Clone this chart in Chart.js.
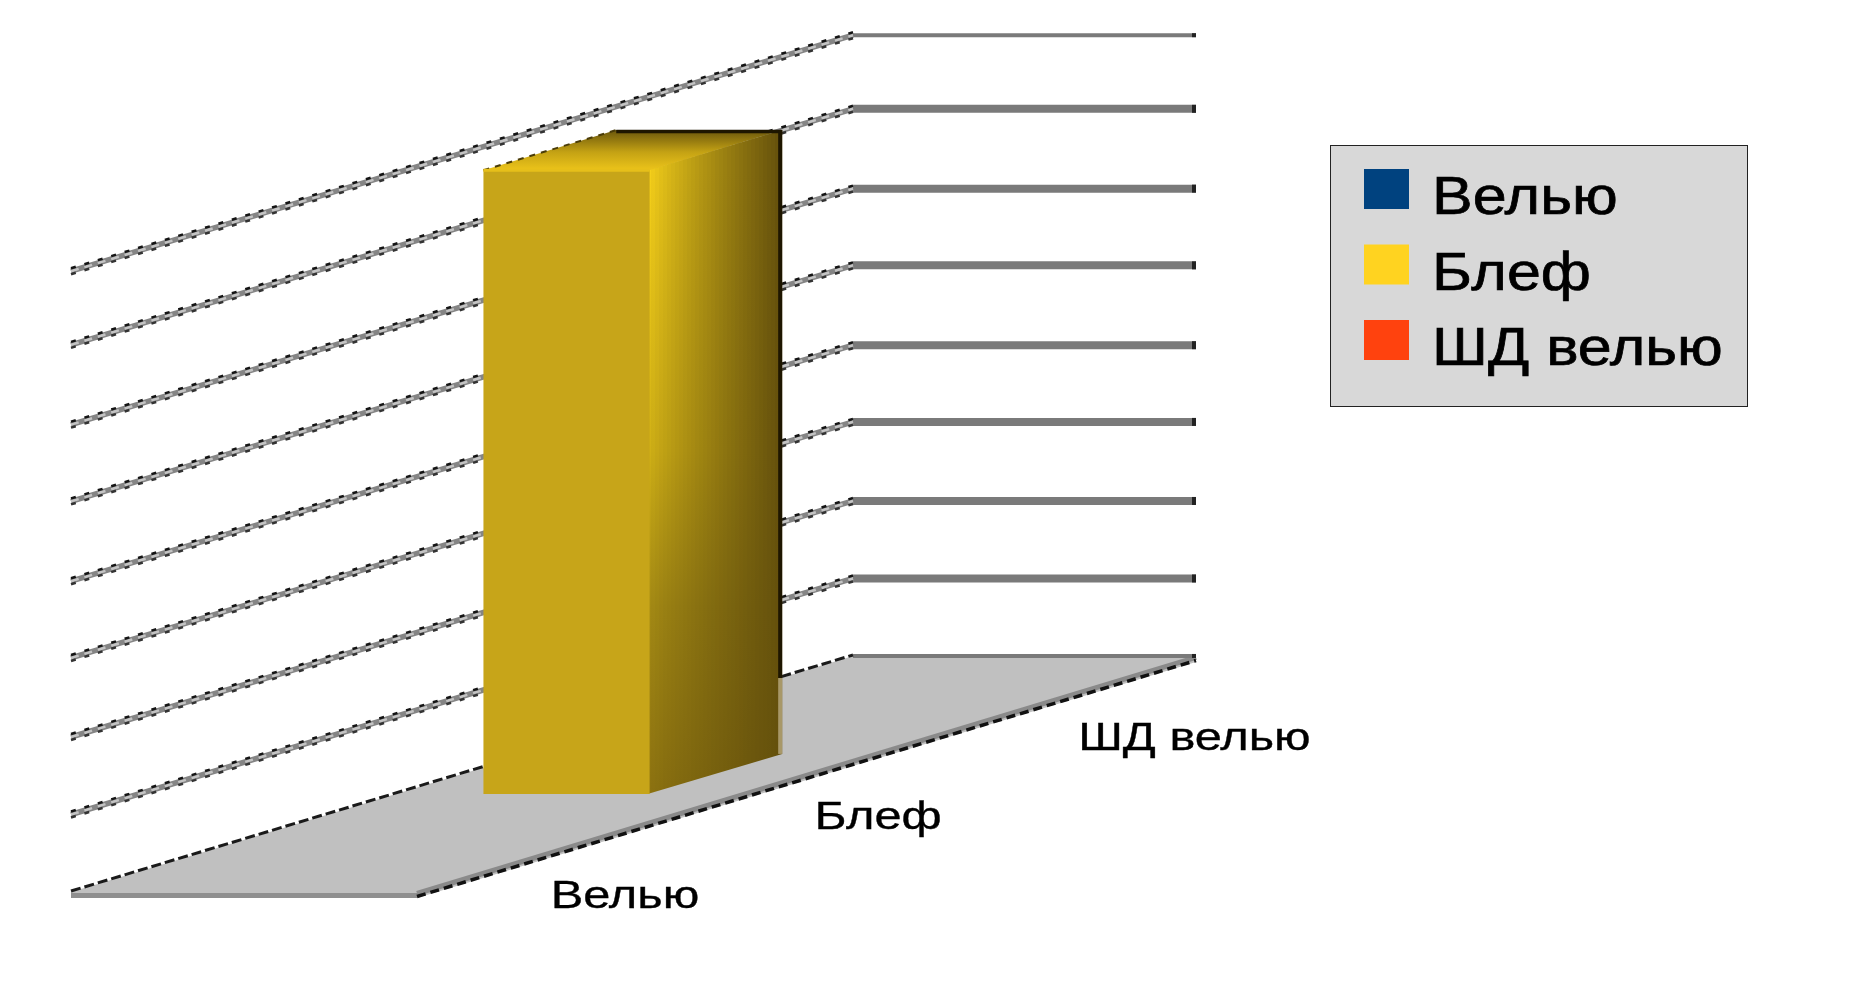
<!DOCTYPE html>
<html>
<head>
<meta charset="utf-8">
<style>
    html, body { margin: 0; padding: 0; background: #fff; overflow: hidden; }
    canvas { display: block; }
</style>
<script src="https://cdn.jsdelivr.net/npm/chart.js@4"></script>
</head>
<body>
<canvas id="chart" width="1853" height="1000"></canvas>
<script>
const categories = ['Велью', 'Блеф', 'ШД велью'];
const seriesNames = ['Велью', 'Блеф', 'ШД велью'];
const veluValues = [0, 0, 0];
const blefValues = [0, 8.05, 0];
const shdValues = [0, 0, 0];
const seriesColors = ['#00427f', '#ffd320', '#ff420e'];
// gridline levels as they sit in the picture
const gridLevels = [0, 1, 2, 3.02, 4.01, 5.04, 6.03, 7.06, 8.01];

// oblique projection of the floor
const floorWidth = 346;
const backWidth = 343;
const depthSlope = 0.303;
const barLeft = 0.255;
const barRight = 0.737;

function shade(hex, k) {
    const n = parseInt(hex.slice(1), 16);
    const r = Math.round(((n >> 16) & 255) * k);
    const g = Math.round(((n >> 8) & 255) * k);
    const b = Math.round((n & 255) * k);
    return `rgb(${r}, ${g}, ${b})`;
}

function mixColor(a, b, t) {
    return a.map((v, i) => Math.round(v + (b[i] - v) * t));
}

function polygon(ctx, points, fill) {
    ctx.beginPath();
    points.forEach((p, i) => i ? ctx.lineTo(p[0], p[1]) : ctx.moveTo(p[0], p[1]));
    ctx.closePath();
    ctx.fillStyle = fill;
    ctx.fill();
}

function segment(ctx, a, b, color, width, dash, dy) {
    ctx.save();
    ctx.beginPath();
    ctx.moveTo(a[0], a[1] + (dy || 0));
    ctx.lineTo(b[0], b[1] + (dy || 0));
    ctx.strokeStyle = color;
    ctx.lineWidth = width;
    ctx.setLineDash(dash || []);
    ctx.stroke();
    ctx.restore();
}

function stretchedText(ctx, text, x, y, size, stretch, weight) {
    ctx.save();
    ctx.translate(x, y);
    ctx.scale(stretch, 1);
    ctx.font = `${size}px "Liberation Sans", Arial, sans-serif`;
    ctx.fillStyle = '#000';
    ctx.strokeStyle = '#000';
    ctx.lineWidth = weight;
    ctx.textAlign = 'left';
    ctx.textBaseline = 'alphabetic';
    ctx.fillText(text, 0, 0);
    ctx.strokeText(text, 0, 0);
    ctx.restore();
}

const obliquePlugin = {
    id: 'oblique',
    beforeDatasetsDraw(chart) {
        const ctx = chart.ctx;
        const area = chart.chartArea;
        const yScale = chart.scales.y;
        const xScale = chart.scales.x;
        const project = (depth, yPx, u) => {
            const t = (depth - area.left) / area.width;
            const width = floorWidth + (backWidth - floorWidth) * t;
            return [depth - width * (1 - u), yPx - depthSlope * (depth - area.left)];
        };

        // floor
        const y0 = yScale.getPixelForValue(0);
        const fl = project(area.left, y0, 0);
        const fr = project(area.left, y0, 1);
        const bl = project(area.right, y0, 0);
        const br = project(area.right, y0, 1);
        polygon(ctx, [fl, bl, br, [br[0], br[1] + 6], [fr[0], fr[1] + 6], [fl[0], fl[1] + 6]], '#c0c0c0');
        polygon(ctx, [[fl[0], fl[1] + 1], [fr[0], fr[1] + 1], [fr[0], fr[1] + 6], [fl[0], fl[1] + 6]], '#8f8f8f');
        segment(ctx, fr, br, '#8a8a8a', 5, null, 1.5);
        segment(ctx, fr, br, '#111', 3.5, [9, 5], 4.5);

        // walls
        yScale.ticks.forEach((tick, i) => {
            const y = yScale.getPixelForValue(tick.value);
            const a = project(area.left, y, 0);
            const b = project(area.right, y, 0);
            const c = project(area.right, y, 1);
            const isEnd = i === 0 || i === yScale.ticks.length - 1;
            segment(ctx, b, c, '#7a7a7a', isEnd ? 4 : 8);
            ctx.fillStyle = '#222';
            ctx.fillRect(c[0] - 4, c[1] - (isEnd ? 2 : 4), 4, isEnd ? 4 : 8);
            if (i === 0) {
                segment(ctx, a, b, '#1a1a1a', 3, [10, 4], -1);
                return;
            }
            segment(ctx, a, b, '#858585', 5.5);
            segment(ctx, a, b, '#c4c4c4', 2.5, [8, 6]);
            segment(ctx, a, b, '#141414', 2.5, [5, 9], -3);
            segment(ctx, a, b, '#333', 2.5, [5, 9], 3);
        });

        // bars
        chart.data.datasets.forEach((ds, i) => {
            chart.getDatasetMeta(i).data.forEach(bar => {
                if (!bar.base || Math.abs(bar.base - bar.y) < 1) return;
                const front = bar.x - bar.width / 2;
                const back = bar.x + bar.width / 2;
                const ftl = project(front, bar.y, barLeft);
                const ftr = project(front, bar.y, barRight);
                const fbl = project(front, bar.base, barLeft);
                const fbr = project(front, bar.base, barRight);
                const btl = project(back, bar.y, barLeft);
                const btr = project(back, bar.y, barRight);
                const bbr = project(back, bar.base, barRight);

                // side face, one narrow strip at a time
                ctx.save();
                ctx.beginPath();
                [[ftr[0] - 2, ftr[1]], btr, bbr, [fbr[0] - 2, fbr[1]]].forEach((q, k) => k ? ctx.lineTo(q[0], q[1]) : ctx.moveTo(q[0], q[1]));
                ctx.closePath();
                ctx.clip();
                const stripStart = Math.floor(ftr[0] - 2);
                const strips = Math.ceil((btr[0] - stripStart) / 4);
                const dark = [100, 80, 12];
                for (let s = 0; s < strips; s++) {
                    const t = s / (strips - 1);
                    const grad = ctx.createLinearGradient(0, ftr[1], 0, fbr[1]);
                    const stops = [[0, [245, 208, 26]], [0.45, [208, 176, 22]], [0.7, [164, 138, 20]], [1, [140, 114, 16]]];
                    stops.forEach(([pos, col]) => {
                        grad.addColorStop(pos, `rgb(${mixColor(col, dark, Math.pow(t, 0.85)).join(',')})`);
                    });
                    ctx.fillStyle = grad;
                    ctx.fillRect(stripStart + s * 4, Math.floor(btr[1]), 4, Math.ceil(fbr[1] - btr[1]) + 1);
                }
                ctx.restore();

                // top face
                const topGrad = ctx.createLinearGradient(0, ftl[1], 0, btl[1]);
                topGrad.addColorStop(0, '#ecc41a');
                topGrad.addColorStop(0.45, '#c4a214');
                topGrad.addColorStop(1, '#6a560c');
                polygon(ctx, [ftl, btl, btr, ftr], topGrad);
                segment(ctx, ftl, btl, '#4a3c08', 2, [6, 6]);
                segment(ctx, [btl[0], btl[1] + 1.5], [btr[0], btr[1] + 1.5], '#1e1600', 3.5);

                // front face
                polygon(ctx, [ftl, ftr, fbr, fbl], shade(ds.backgroundColor, 0.78));
                segment(ctx, ftl, ftr, '#e6bf1a', 3);

                // edge on the far side, lighter where it stands over the floor
                const edgeX = btr[0] - 2;
                const edgeSplit = bl[1] + (bl[0] - edgeX) * depthSlope;
                segment(ctx, [edgeX, btr[1]], [edgeX, edgeSplit], '#1e1600', 4);
                segment(ctx, [edgeX, edgeSplit], [edgeX, bbr[1]], '#a89868', 4);
            });
        });

        // category labels follow the floor edge
        xScale.ticks.forEach((tick, i) => {
            const depth = xScale.getPixelForTick(i);
            const y = y0 - depthSlope * (depth - area.left) + 55;
            stretchedText(ctx, categories[i], depth + 4 + i * 4, y, 39, 1.25, 0.35);
        });

        // legend
        ctx.fillStyle = '#d8d8d8';
        ctx.fillRect(1330, 145, 417, 262);
        ctx.strokeStyle = '#222';
        ctx.lineWidth = 1;
        ctx.strokeRect(1330.5, 145.5, 417, 261);
        chart.data.datasets.forEach((ds, i) => {
            const top = 169 + i * 75.5;
            ctx.fillStyle = ds.backgroundColor;
            ctx.fillRect(1364, top, 45, 40);
            stretchedText(ctx, ds.label, 1432, 214 + i * 75.5, 53.5, 1.14, 0.7);
        });
        return false;
    }
};

const seriesValues = [veluValues, blefValues, shdValues];

new Chart(document.getElementById('chart'), {
    type: 'bar',
    data: {
        labels: categories,
        datasets: seriesNames.map((name, i) => ({
            label: name,
            data: seriesValues[i],
            backgroundColor: seriesColors[i],
            categoryPercentage: 1,
            barPercentage: 0.51
        }))
    },
    options: {
        responsive: false,
        devicePixelRatio: 1,
        animation: false,
        layout: { padding: { left: 417, right: 657, top: 272, bottom: 108 } },
        plugins: {
            legend: { display: false },
            tooltip: { enabled: false }
        },
        scales: {
            x: { stacked: true, display: false },
            y: {
                stacked: true,
                display: false,
                min: 0,
                max: 8,
                afterBuildTicks: axis => { axis.ticks = gridLevels.map(value => ({ value })); }
            }
        }
    },
    plugins: [obliquePlugin]
});
</script>
</body>
</html>
